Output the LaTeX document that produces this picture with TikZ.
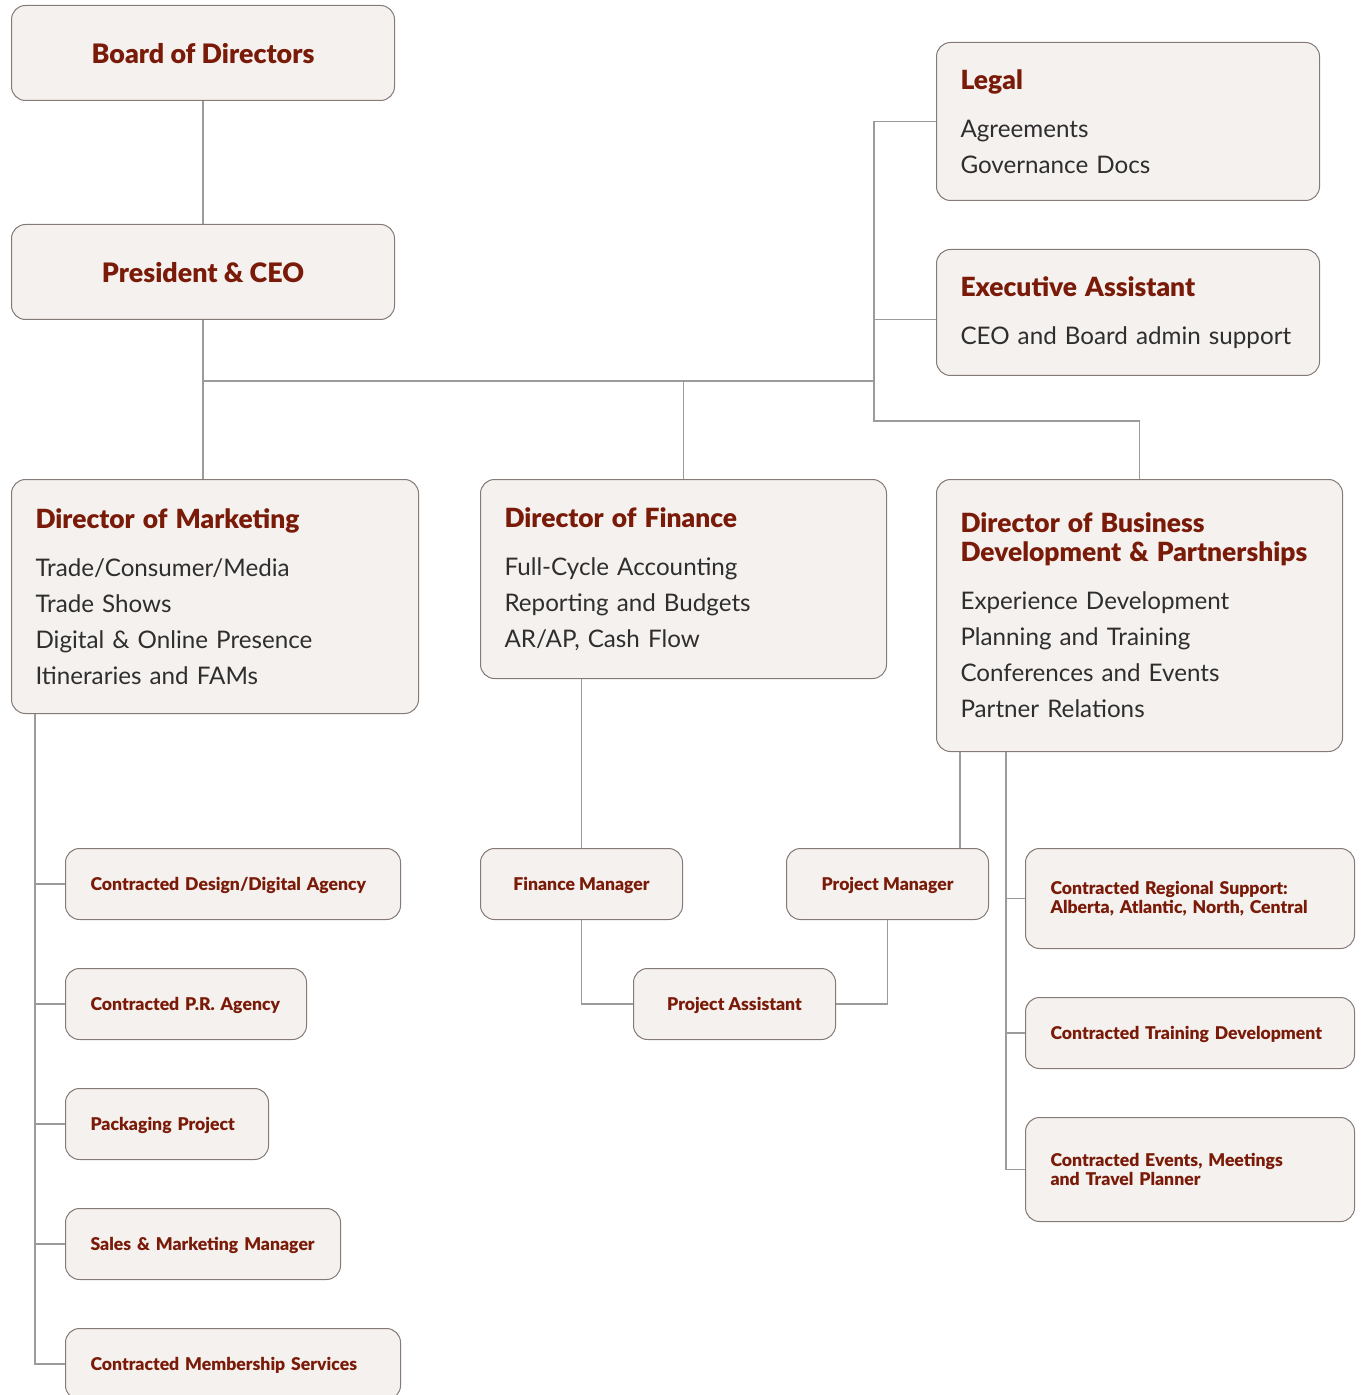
\documentclass[tikz,border=0pt]{standalone}
\usepackage{fontspec}
\setmainfont{Lato}
\newfontfamily\heavy{Lato Black}

\definecolor{boxfill}{HTML}{F4F1EE}
\definecolor{boxline}{HTML}{857A76}
\definecolor{linkgray}{HTML}{9B9B9B}
\definecolor{titlered}{HTML}{7A1A08}
\definecolor{bodygray}{HTML}{2E2E2E}

\tikzset{
  box/.style={draw=boxline, fill=boxfill, line width=0.5pt, rounded corners=7pt},
  head/.style={box, font=\fontsize{13.4}{15}\selectfont\heavy, text=titlered, text depth=0pt, minimum width=191.5pt, minimum height=47.5pt},
  unit/.style={box, align=left, inner xsep=12pt, font=\fontsize{12.1}{18}\selectfont, text=bodygray},
  sub/.style={box, font=\fontsize{8.8}{9.5}\selectfont\heavy, text=titlered, minimum height=35.5pt},
  subc/.style={sub, text depth=0pt, minimum width=101pt},
  subm/.style={sub, align=left, inner xsep=12.5pt},
  subl/.style={subm, text depth=0pt},
  link/.style={draw=linkgray, line width=0.7pt},
}
\newcommand{\ttl}[1]{{\fontsize{13.2}{15}\selectfont\heavy\color{titlered}#1}}

\begin{document}
\begin{tikzpicture}[x=0.5pt,y=-0.5pt]

\useasboundingbox (0,0) rectangle (1361,1395);

% Top
\node [head, anchor=north west] (board) at (11,5) {Board of Directors};
\node [head, anchor=north west] (ceo) at (11,224) {President \& CEO};

\node [unit, text width=167.5pt, minimum height=79pt, anchor=north west] (legal) at (936,42) {\ttl{Legal}\\[6pt] Agreements\\ Governance Docs};
\node [unit, text width=167.5pt, minimum height=63pt, anchor=north west] (ea) at (936,249) {\ttl{Executive Assistant}\\[6pt] CEO and Board admin support};

% Directors
\node [unit, text width=179.5pt, minimum height=117pt, anchor=north west] (mkt) at (11,479) {\ttl{Director of Marketing}\\[6pt] Trade/Consumer/Media\\ Trade Shows\\ Digital \& Online Presence\\ Itineraries and FAMs};
\node [unit, text width=179pt, minimum height=99.5pt, anchor=north west] (fin) at (480,479) {\ttl{Director of Finance}\\[6pt] Full-Cycle Accounting\\ Reporting and Budgets\\ AR/AP, Cash Flow};
\node [unit, text width=179pt, minimum height=136pt, anchor=north west] (bd) at (936,479) {\ttl{Director of Business}\\[-3.5pt] \ttl{Development \& Partnerships}\\[6pt] Experience Development\\ Planning and Training\\ Conferences and Events\\ Partner Relations};

% Marketing staff
\node [subl, text width=142.5pt, anchor=north west] (dsgn) at (65,848) {Contracted Design/Digital Agency};
\node [subl, text width=95.5pt, anchor=north west] (pr) at (65,968) {Contracted P.R. Agency};
\node [subl, text width=76.5pt, anchor=north west] (pack) at (65,1088) {Packaging Project};
\node [subl, text width=112.5pt, anchor=north west] (sales) at (65,1208) {Sales \& Marketing Manager};
\node [subl, text width=142.5pt, anchor=north west] (memb) at (65,1328) {Contracted Membership Services};

% Finance and projects
\node [subc, anchor=north west] (fm) at (480,848) {Finance Manager};
\node [subc, anchor=north west] (pm) at (786,848) {Project Manager};
\node [subc, anchor=north west] (pa) at (633,968) {Project Assistant};

% Business development staff
\node [subm, text width=139.5pt, minimum height=50pt, anchor=north west] (reg) at (1025,848) {Contracted Regional Support:\\ Alberta, Atlantic, North, Central};
\node [subl, text width=139.5pt, anchor=north west] (train) at (1025,997) {Contracted Training Development};
\node [subm, text width=139.5pt, minimum height=52pt, anchor=north west] (events) at (1025,1117) {Contracted Events, Meetings\\ and Travel Planner};

% Lines
\coordinate (hub) at (874,381);
\coordinate (elbow) at (874,421);

\draw [link] (board) -- (ceo);
\draw [link] (ceo.south) -- (ceo.south |- mkt.north);
\draw [link] (ceo.south |- hub) -- (hub);
\draw [link] (fin.north) -- (fin.north |- hub);
\draw [link] (legal.west) -- (legal.west -| hub) -- (elbow) -| (bd.north);
\draw [link] ([yshift=-3.5pt]ea.west) -- ([yshift=-3.5pt]ea.west -| hub);

\foreach \c in {dsgn,pr,pack,sales,memb}
  \draw [link] ([xshift=12pt]mkt.south west) |- (\c.west);
\foreach \c in {reg,train,events}
  \draw [link] ([xshift=35pt]bd.south west) |- (\c.west);

\draw [link] (fm.north) -- (fm.north |- fin.south);
\draw [link] ([xshift=12pt]bd.south west) -- ([xshift=12pt]bd.south west |- pm.north);
\draw [link] (fm.south) |- (pa.west);
\draw [link] (pm.south) |- (pa.east);

\end{tikzpicture}
\end{document}
